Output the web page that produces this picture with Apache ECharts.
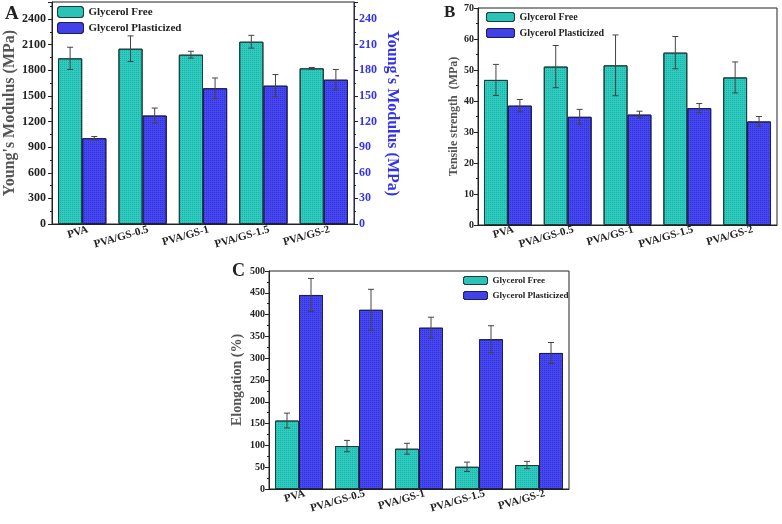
<!DOCTYPE html>
<html><head><meta charset="utf-8">
<script src="https://cdn.jsdelivr.net/npm/echarts@6/dist/echarts.min.js"></script>
<style>html,body{margin:0;padding:0;background:#fff}#c{width:782px;height:524px}</style>
</head><body><div id="c"></div>
<script>
const categories = ['PVA','PVA/GS-0.5','PVA/GS-1','PVA/GS-1.5','PVA/GS-2'];
// Panel A: Young's modulus (free on left axis, plasticized on right axis)
const modFree = [1940, 2053, 1983, 2135, 1823];
const modFreeErr = [130, 150, 40, 75, 10];
const modPlast = [100.5, 127, 159, 162, 169];
const modPlastErr = [2, 8.8, 12, 13, 12];
// Panel B: Tensile strength
const tsFree = [46.8, 51.1, 51.5, 55.6, 47.6];
const tsFreeErr = [5, 6.8, 9.8, 5.2, 5];
const tsPlast = [38.5, 34.9, 35.6, 37.7, 33.4];
const tsPlastErr = [2, 2.4, 1.1, 1.5, 1.6];
// Panel C: Elongation
const elFree = [157, 98.5, 92.4, 51, 55];
const elFreeErr = [17, 13, 12.5, 10.7, 8.4];
const elPlast = [445, 411, 370, 343.5, 312];
const elPlastErr = [38, 47, 24, 31, 24];

const FONT = 'Liberation Serif';
const TEAL = '#2ecbc0', BLUE = '#4646f2';
const tealStyle = {color: TEAL, borderColor: '#1c3f3c', borderWidth: 1,
  decal: {symbol:'rect', symbolSize:1, dashArrayX:[1,1], dashArrayY:[1,1], color:'rgba(10,120,110,0.35)'}};
const blueStyle = {color: BLUE, borderColor: '#1d1d5a', borderWidth: 1,
  decal: {symbol:'rect', symbolSize:1, dashArrayX:[1,1], dashArrayY:[1,1], color:'rgba(20,20,160,0.4)'}};

function errData(vals, errs, side){ return vals.map((v,i)=>[i, v, errs[i], side]); }
function renderErr(params, api){
  const i = api.value(0), v = api.value(1), e = api.value(2), side = api.value(3);
  const bw = api.size([1,0])[0];
  const t = api.coord([i, v+e]), b = api.coord([i, v-e]);
  const x = t[0] + side*bw*0.2;
  const cap = 3;
  const st = {stroke:'#444', lineWidth:1};
  return {type:'group', children:[
    {type:'line', shape:{x1:x, y1:t[1], x2:x, y2:b[1]}, style:st},
    {type:'line', shape:{x1:x-cap, y1:t[1], x2:x+cap, y2:t[1]}, style:st},
    {type:'line', shape:{x1:x-cap, y1:b[1], x2:x+cap, y2:b[1]}, style:st}
  ]};
}
function xAx(gi, fs, m){
  return {type:'category', gridIndex:gi, data:categories,
    axisLine:{lineStyle:{color:'#222'}},
    axisTick:{alignWithLabel:false, length:3, lineStyle:{color:'#222'}},
    axisLabel:{interval:0, rotate:16, fontFamily:FONT, fontWeight:'bold', fontSize:fs, color:'#222', margin:m, padding:[0,-6,0,0]}};
}
const plain = v => String(v);
function yAx(gi, max, interval, fs, lm, name, nfs, ngap, extra){
  return Object.assign({type:'value', gridIndex:gi, min:0, max:max, interval:interval,
    name:name, nameLocation:'middle', nameGap:ngap,
    nameTextStyle:{fontFamily:FONT, fontWeight:'bold', fontSize:nfs, color:'#555'},
    axisLine:{show:true, lineStyle:{color:'#222'}},
    axisTick:{show:true, length:4, lineStyle:{color:'#222'}},
    minorTick:{show:true, splitNumber:2, length:2, lineStyle:{color:'#222'}},
    splitLine:{show:false},
    axisLabel:{formatter:plain, fontFamily:FONT, fontWeight:'bold', fontSize:fs, color:'#222', margin:lm, showMaxLabel: (max % interval === 0)}}, extra||{});
}
const legText = (fs)=>({fontFamily:FONT, fontWeight:'bold', fontSize:fs, color:'#222'});

const option = {
  animation:false,
  grid:[
    {left:52, right:428, top:2, bottom:300, show:true, borderColor:'#222', borderWidth:1, backgroundColor:'transparent'},
    {left:478, right:5, top:8, bottom:299, show:true, borderColor:'#222', borderWidth:1, backgroundColor:'transparent'},
    {left:269, right:213, top:271, bottom:35, show:true, borderColor:'#222', borderWidth:1, backgroundColor:'transparent'}
  ],
  xAxis:[xAx(0,11,7), xAx(1,11,6), xAx(2,11,6)],
  yAxis:[
    yAx(0, 2600, 300, 12, 6, "Young's Modulus (MPa)", 16, 30),
    yAx(0, 260, 30, 12, 5, "Young's Modulus (MPa)", 16, 30, {position:'right', nameRotate:-90,
      nameTextStyle:{fontFamily:FONT, fontWeight:'bold', fontSize:16, color:'#3333ee'},
      axisLine:{show:true, lineStyle:{color:'#222a6a'}},
      axisLabel:{formatter:plain, fontFamily:FONT, fontWeight:'bold', fontSize:12, color:'#3333ee', margin:5, showMaxLabel:false}}),
    yAx(1, 70, 10, 10, 4, "Tensile strength  (MPa)", 12, 14),
    yAx(2, 500, 50, 10, 4, "Elongation (%)", 14, 25)
  ],
  legend:[
    {selectedMode:false, orient:'vertical', left:57, top:6, padding:0, itemWidth:26, itemHeight:11, itemGap:4,
     textStyle:legText(11), data:[{name:'Glycerol Free', itemStyle:tealStyle},{name:'Glycerol Plasticized', itemStyle:blueStyle}]},
    {selectedMode:false, orient:'vertical', left:486, top:12, padding:0, itemWidth:28, itemHeight:9, itemGap:6,
     textStyle:legText(10), data:[{name:'Glycerol Free', itemStyle:tealStyle},{name:'Glycerol Plasticized', itemStyle:blueStyle}]},
    {selectedMode:false, orient:'vertical', left:463, top:276, padding:0, itemWidth:24, itemHeight:8, itemGap:6,
     textStyle:legText(9), data:[{name:'Glycerol Free', itemStyle:tealStyle},{name:'Glycerol Plasticized', itemStyle:blueStyle}]}
  ],
  graphic:[
    {type:'text', left:5, top:5, style:{text:'A', font:'bold 19px "Liberation Serif"', fill:'#222'}},
    {type:'text', left:444, top:4, style:{text:'B', font:'bold 17px "Liberation Serif"', fill:'#222'}},
    {type:'text', left:232, top:262, style:{text:'C', font:'bold 18px "Liberation Serif"', fill:'#222'}}
  ],
  series:[
    {type:'bar', name:'Glycerol Free', xAxisIndex:0, yAxisIndex:0, data:modFree, barGap:'0%', barCategoryGap:'20%', itemStyle:tealStyle},
    {type:'bar', name:'Glycerol Plasticized', xAxisIndex:0, yAxisIndex:1, data:modPlast, barGap:'0%', barCategoryGap:'20%', itemStyle:blueStyle},
    {type:'bar', name:'Glycerol Free', xAxisIndex:1, yAxisIndex:2, data:tsFree, barGap:'0%', barCategoryGap:'20%', itemStyle:tealStyle},
    {type:'bar', name:'Glycerol Plasticized', xAxisIndex:1, yAxisIndex:2, data:tsPlast, barGap:'0%', barCategoryGap:'20%', itemStyle:blueStyle},
    {type:'bar', name:'Glycerol Free', xAxisIndex:2, yAxisIndex:3, data:elFree, barGap:'0%', barCategoryGap:'20%', itemStyle:tealStyle},
    {type:'bar', name:'Glycerol Plasticized', xAxisIndex:2, yAxisIndex:3, data:elPlast, barGap:'0%', barCategoryGap:'20%', itemStyle:blueStyle},
    {type:'custom', xAxisIndex:0, yAxisIndex:0, z:5, renderItem:renderErr, data:errData(modFree, modFreeErr, -1)},
    {type:'custom', xAxisIndex:0, yAxisIndex:1, z:5, renderItem:renderErr, data:errData(modPlast, modPlastErr, 1)},
    {type:'custom', xAxisIndex:1, yAxisIndex:2, z:5, renderItem:renderErr, data:errData(tsFree, tsFreeErr, -1)},
    {type:'custom', xAxisIndex:1, yAxisIndex:2, z:5, renderItem:renderErr, data:errData(tsPlast, tsPlastErr, 1)},
    {type:'custom', xAxisIndex:2, yAxisIndex:3, z:5, renderItem:renderErr, data:errData(elFree, elFreeErr, -1)},
    {type:'custom', xAxisIndex:2, yAxisIndex:3, z:5, renderItem:renderErr, data:errData(elPlast, elPlastErr, 1)}
  ]
};
const chart = echarts.init(document.getElementById('c'), null, {renderer:'canvas'});
chart.setOption(option);
</script></body></html>
